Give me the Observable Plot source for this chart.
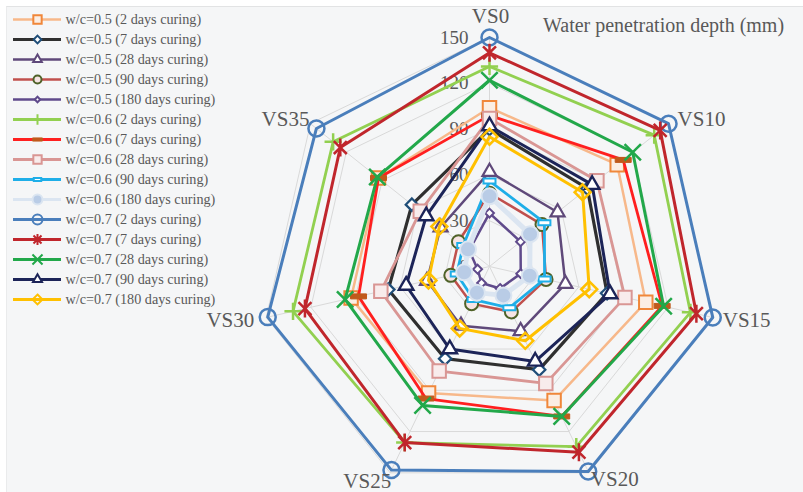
<!DOCTYPE html>
<html>
<head>
<meta charset="utf-8">
<script src="https://cdn.jsdelivr.net/npm/d3@7"></script>
<script src="https://cdn.jsdelivr.net/npm/@observablehq/plot@0.6"></script>
<style>
  body { margin: 0; background: #ffffff; width: 803px; height: 492px; overflow: hidden; position: relative; }
  #bg { position: absolute; left: 6px; top: 6px; width: 797px; height: 486px; background: #f5f6f7; border-top: 1px solid #e2e3e4; border-left: 1px solid #eaebec; }
  #chart, #legend { position: absolute; left: 0; top: 0; }
  #title { position: absolute; left: 543px; top: 14px; font: 20px "Liberation Serif", "Times New Roman", serif; color: #595959; white-space: nowrap; }
</style>
</head>
<body>
<div id="bg"></div>
<div id="chart"></div>
<div id="legend"></div>
<div id="title">Water penetration depth (mm)</div>
<script>
// ---------- DATA ----------
const axisLabels = ["VS0", "VS10", "VS15", "VS20", "VS25", "VS30", "VS35"];
const tickValues = [0, 30, 60, 90, 120, 150];
const gridLevels = [30, 60, 90, 120, 150];
const seriesLabels = [
  "w/c=0.5 (2 days curing)", "w/c=0.5 (7 days curing)", "w/c=0.5 (28 days curing)",
  "w/c=0.5 (90 days curing)", "w/c=0.5 (180 days curing)",
  "w/c=0.6 (2 days curing)", "w/c=0.6 (7 days curing)", "w/c=0.6 (28 days curing)",
  "w/c=0.6 (90 days curing)", "w/c=0.6 (180 days curing)",
  "w/c=0.7 (2 days curing)", "w/c=0.7 (7 days curing)", "w/c=0.7 (28 days curing)",
  "w/c=0.7 (90 days curing)", "w/c=0.7 (180 days curing)"
];
// values per axis VS0, VS10, VS15, VS20, VS25, VS30, VS35
const wc05_2d   = [104, 107, 105, 97.5, 92, 93, 93];
const wc05_7d   = [90, 82, 79, 75, 67, 68, 65];
const wc05_28d  = [62, 57, 51, 47, 43, 42, 41];
const wc05_90d  = [48, 44, 38, 33, 27, 26, 26];
const wc05_180d = [35, 26, 21, 16, 12, 8, 17];
const wc06_2d   = [131, 138, 135, 131, 128, 132, 131];
const wc06_7d   = [99, 112, 116, 109, 96, 88, 93];
const wc06_28d  = [97, 90, 91, 85, 76, 73, 58];
const wc06_90d  = [56, 46, 37, 30, 24, 22, 22];
const wc06_180d = [46, 34, 27, 21, 19, 17, 18];
const wc07_2d   = [150, 150, 150, 149, 148, 149, 145];
const wc07_7d   = [140, 143, 139, 135, 128, 124, 125];
const wc07_28d  = [122, 120, 117, 109, 101, 97, 94];
const wc07_90d  = [92, 86, 81, 69, 60, 56, 53];
const wc07_180d = [85, 78, 67, 54, 45, 41, 42];
const seriesValues = [wc05_2d, wc05_7d, wc05_28d, wc05_90d, wc05_180d,
  wc06_2d, wc06_7d, wc06_28d, wc06_90d, wc06_180d,
  wc07_2d, wc07_7d, wc07_28d, wc07_90d, wc07_180d];

// ---------- STYLES ----------
const FONT = "'Liberation Serif', 'Times New Roman', serif";
const TXT = "#595959";
const dash = (wr, hr) => ({ draw(ctx, size) { const r = Math.sqrt(size / Math.PI), w = wr * r, h = hr * r; ctx.moveTo(-w/2, -h/2); ctx.lineTo(w/2, -h/2); ctx.lineTo(w/2, h/2); ctx.lineTo(-w/2, h/2); ctx.closePath(); } });
const star = (k) => ({ draw(ctx, size) { const s = k * Math.sqrt(size / Math.PI), d = s * 0.72; ctx.moveTo(0, -s); ctx.lineTo(0, s); ctx.moveTo(-d, -d); ctx.lineTo(d, d); ctx.moveTo(-d, d); ctx.lineTo(d, -d); } });
const styles = [
  {line: "#f7b88a", sw: 2.5, sym: "square", r: 7.6, ms: "#f0873a", mf: "#fbeee4", msw: 2},
  {line: "#2f2f2f", sw: 3.2, sym: "diamond2", r: 5.6, ms: "#1f4e79", mf: "#ffffff", msw: 2.2},
  {line: "#5f497a", sw: 2.5, sym: "triangle", r: 5.2, ms: "#5f497a", mf: "#ffffff", msw: 2.2},
  {line: "#c0504d", sw: 2.5, sym: "circle", r: 6.5, ms: "#4f6228", mf: "#f6e4e4", msw: 2},
  {line: "#5f4a8b", sw: 2.5, sym: "diamond2", r: 4, ms: "#5f4a8b", mf: "#ffffff", msw: 2},
  {line: "#92d050", sw: 2.8, sym: "plus", r: 5.6, ms: "#92d050", mf: "none", msw: 2.5},
  {line: "#ff1f1f", sw: 2.8, sym: dash(3.2, 1), r: 5, ms: "#c05a1c", mf: "#c05a1c", msw: 1},
  {line: "#d99694", sw: 2.8, sym: "square", r: 7.6, ms: "#d99694", mf: "#f8ecec", msw: 2},
  {line: "#1eaee8", sw: 2.8, sym: dash(2.4, 1), r: 5, ms: "#1eaee8", mf: "#ffffff", msw: 2},
  {line: "#dbe5f1", sw: 5, sym: "circle", r: 8, ms: "#dbe5f1", mf: "#b9cce6", msw: 2},
  {line: "#4a7ebb", sw: 3, sym: "circle", r: 8, ms: "#4a7ebb", mf: "none", msw: 2.5},
  {line: "#c0262c", sw: 3, sym: star(1.125), r: 8, ms: "#c0262c", mf: "none", msw: 2.5},
  {line: "#22a84a", sw: 3, sym: "times", r: 7.5, ms: "#22a84a", mf: "none", msw: 2.5},
  {line: "#1c2458", sw: 3, sym: "triangle", r: 5.4, ms: "#1c2458", mf: "#ffffff", msw: 2.4},
  {line: "#ffc000", sw: 3, sym: "diamond2", r: 7.2, ms: "#ffc000", mf: "none", msw: 2.5}
];
// axis label placement (pixel offsets from tip)
const labelPlace = [
  {anchor: "middle", dx: 1, dy: -21},
  {anchor: "start", dx: 9, dy: -4},
  {anchor: "start", dx: 10, dy: 3},
  {anchor: "start", dx: 2, dy: 6},
  {anchor: "end", dx: 1, dy: 8},
  {anchor: "end", dx: -12, dy: 3},
  {anchor: "end", dx: -1, dy: -4}
];

// ---------- GEOMETRY (polar -> data coordinates) ----------
const N = axisLabels.length;
const ang = i => i * 2 * Math.PI / N;
const pt = (v, i) => ({x: v * Math.sin(ang(i)), y: v * Math.cos(ang(i))});
const K = 229 / 150;   // px per unit
const CX = 489, CY = 266, W = 803, H = 492;

const marks = [];
const gridPts = gridLevels.flatMap(l => axisLabels.map((a, i) => ({...pt(l, i), level: l})));
marks.push(Plot.line(gridPts, {x: "x", y: "y", z: "level", curve: "linear-closed", stroke: "#d9d9d9", strokeWidth: 1}));
const spokes = axisLabels.map((a, i) => ({a, ...pt(150, i)}));
marks.push(Plot.link(spokes, {x1: d => 0, y1: d => 0, x2: "x", y2: "y", stroke: "#d9d9d9", strokeWidth: 1}));
marks.push(Plot.text(tickValues, {x: d => 0, y: d => d, text: d => String(d), textAnchor: "end", dx: -21, fontSize: 19, fontFamily: FONT, fill: TXT}));
seriesValues.forEach((vals, s) => {
  const st = styles[s];
  const pts = vals.map((v, i) => pt(v, i));
  marks.push(Plot.line(pts, {x: "x", y: "y", curve: "linear-closed", stroke: st.line, strokeWidth: st.sw, strokeLinejoin: "round"}));
  marks.push(Plot.dot(pts, {x: "x", y: "y", symbol: st.sym, r: st.r, stroke: st.ms, fill: st.mf, strokeWidth: st.msw}));
});
axisLabels.forEach((a, i) => {
  const p = labelPlace[i];
  marks.push(Plot.text([{a, ...pt(150, i)}], {x: "x", y: "y", text: "a", textAnchor: p.anchor, dx: p.dx, dy: p.dy, fontSize: 21, fontFamily: FONT, fill: TXT}));
});

const chart = Plot.plot({
  width: W, height: H, margin: 0,
  style: {background: "transparent", overflow: "visible"},
  x: {domain: [-CX / K, (W - CX) / K], range: [0, W], axis: null},
  y: {domain: [-(H - CY) / K, CY / K], range: [H, 0], axis: null},
  marks
});
document.getElementById("chart").appendChild(chart);

// ---------- LEGEND ----------
const lmarks = [];
seriesLabels.forEach((name, s) => {
  const st = styles[s];
  lmarks.push(Plot.ruleY([name], {y: d => d, x1: d => 13, x2: d => 61, stroke: st.line, strokeWidth: Math.min(st.sw, 3.2)}));
  lmarks.push(Plot.dot([name], {y: d => d, x: d => 37, symbol: st.sym, r: st.r * 0.62, stroke: st.ms, fill: st.mf, strokeWidth: Math.min(st.msw, 2)}));
});
lmarks.push(Plot.text(seriesLabels, {y: d => d, x: d => 65, text: d => d, textAnchor: "start", fontSize: 14.2, fontFamily: FONT, fill: TXT}));
const legend = Plot.plot({
  width: 240, height: 320, margin: 0,
  style: {background: "transparent", overflow: "visible"},
  x: {domain: [0, 240], range: [0, 240], axis: null},
  y: {type: "point", domain: seriesLabels, range: [18, 300.5], padding: 0, axis: null},
  marks: lmarks
});
document.getElementById("legend").appendChild(legend);
</script>
</body>
</html>
